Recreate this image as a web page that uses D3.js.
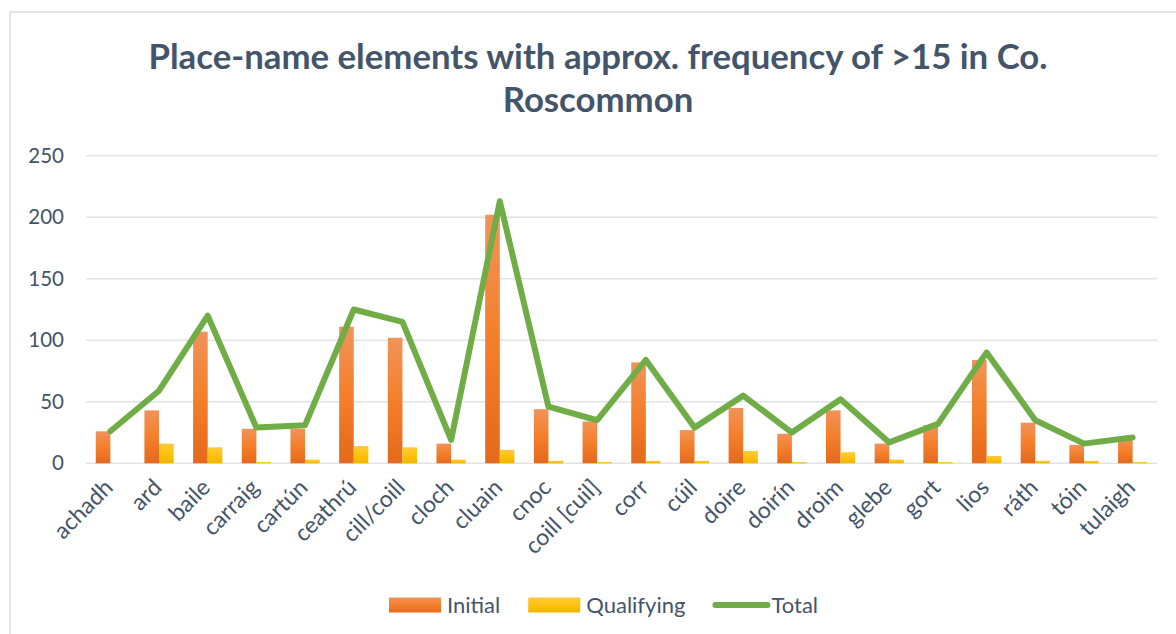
<!DOCTYPE html>
<html>
<head>
<meta charset="utf-8">
<script src="https://cdn.jsdelivr.net/npm/d3@7"></script>
<style>
    body { margin: 0; background: #fff; }
    text { font-family: Lato, "Open Sans", sans-serif; }
</style>
</head>
<body>
<script>
// chart data
var categories = ["achadh", "ard", "baile", "carraig", "cartún", "ceathrú", "cill/coill", "cloch",
    "cluain", "cnoc", "coill [cuil]", "corr", "cúil", "doire", "doirín", "droim", "glebe",
    "gort", "lios", "ráth", "tóin", "tulaigh"];
var initialValues = [26, 43, 107, 28, 28, 111, 102, 16, 202, 44, 34, 82, 27, 45, 24, 43, 16, 31, 84, 33, 15, 20];
var qualifyingValues = [0, 16, 13, 1, 3, 14, 13, 3, 11, 2, 1, 2, 2, 10, 1, 9, 3, 1, 6, 2, 2, 1];
var totalValues = [26, 59, 120, 29, 31, 125, 115, 19, 213, 46, 35, 84, 29, 55, 25, 52, 17, 32, 90, 35, 16, 21];
var yTicks = [0, 50, 100, 150, 200, 250];
var seriesNames = ["Initial", "Qualifying", "Total"];
var titleLines = ["Place-name elements with approx. frequency of >15 in Co.", "Roscommon"];

var W = 1176, H = 634;
var plot = { left: 86, right: 1157, top: 155.7, bottom: 463.3 };
var textColor = "#44546a";

var svg = d3.select("body").append("svg")
    .attr("width", W)
    .attr("height", H);

// gradients for the bars
var defs = svg.append("defs");
function addGradient(id, stops) {
    var g = defs.append("linearGradient")
        .attr("id", id)
        .attr("x1", 0).attr("y1", 0)
        .attr("x2", 0).attr("y2", 1);
    stops.forEach(function (s) {
        g.append("stop").attr("offset", s[0]).attr("stop-color", s[1]);
    });
}
addGradient("gradInitial", [[0, "#f1935a"], [0.5, "#f47f2a"], [1, "#e4691c"]]);
addGradient("gradQualifying", [[0, "#ffca3c"], [0.5, "#ffc20e"], [1, "#f0b400"]]);

// chart frame
svg.append("rect")
    .attr("x", 10)
    .attr("y", 12)
    .attr("width", W + 20)
    .attr("height", H + 20)
    .attr("fill", "#fff")
    .attr("stroke", "#d9dee6")
    .attr("stroke-width", 1.5);

// title
var title = svg.append("text")
    .attr("text-anchor", "middle")
    .attr("fill", textColor)
    .style("font-weight", "bold");
title.selectAll("tspan")
    .data(titleLines)
    .enter()
    .append("tspan")
    .attr("x", 598)
    .attr("y", function (d, i) { return 69 + i * 43; })
    .text(function (d) { return d; });
// fit the first line to the width it has in the picture
title.style("font-size", "32px");
var firstLen = title.select("tspan").node().getComputedTextLength();
title.style("font-size", (32 * 899 / firstLen) + "px");

// scales
var x = d3.scaleBand()
    .domain(categories)
    .range([plot.left, plot.right])
    .paddingInner(0.4)
    .paddingOuter(0.2);

var x1 = d3.scaleBand()
    .domain([0, 1])
    .range([0, x.bandwidth()]);

var y = d3.scaleLinear()
    .domain([0, 250])
    .range([plot.bottom, plot.top]);

// gridlines
svg.append("g")
    .selectAll("line")
    .data(yTicks)
    .enter()
    .append("line")
    .attr("x1", plot.left)
    .attr("x2", plot.right)
    .attr("y1", function (d) { return y(d); })
    .attr("y2", function (d) { return y(d); })
    .attr("stroke", "#dfe3e9")
    .attr("stroke-width", 1.5);

// y axis labels
var yAxis = d3.axisLeft(y)
    .tickValues(yTicks)
    .tickSize(0)
    .tickPadding(0);
var yG = svg.append("g")
    .attr("transform", "translate(64,0)")
    .call(yAxis);
yG.select(".domain").remove();
yG.selectAll("text")
    .attr("fill", textColor)
    .style("font-size", "20.5px")
    .style("font-family", "Lato, sans-serif");

// bars
var rows = categories.map(function (c, i) {
    return { cat: c, initial: initialValues[i], qualifying: qualifyingValues[i], total: totalValues[i] };
});

var barGroup = svg.append("g").attr("class", "bar");
barGroup.selectAll("rect.initial")
    .data(rows)
    .enter()
    .append("rect")
    .attr("class", "initial")
    .attr("x", function (d) { return x(d.cat) + x1(0); })
    .attr("width", x1.bandwidth())
    .attr("y", function (d) { return y(d.initial); })
    .attr("height", function (d) { return y(0) - y(d.initial); })
    .attr("fill", "url(#gradInitial)");

barGroup.selectAll("rect.qualifying")
    .data(rows)
    .enter()
    .append("rect")
    .attr("class", "qualifying")
    .attr("x", function (d) { return x(d.cat) + x1(1); })
    .attr("width", x1.bandwidth())
    .attr("y", function (d) { return y(d.qualifying); })
    .attr("height", function (d) { return y(0) - y(d.qualifying); })
    .attr("fill", "url(#gradQualifying)");

// total line
var line = d3.line()
    .x(function (d) { return x(d.cat) + x.bandwidth() / 2; })
    .y(function (d) { return y(d.total); });

svg.append("path")
    .datum(rows)
    .attr("d", line)
    .attr("fill", "none")
    .attr("stroke", "#70ad47")
    .attr("stroke-width", 6)
    .attr("stroke-linejoin", "round")
    .attr("stroke-linecap", "round");

// x axis labels, rotated
svg.append("g")
    .selectAll("text")
    .data(categories)
    .enter()
    .append("text")
    .attr("transform", function (d) {
        return "translate(" + (x(d) + x.bandwidth() / 2 + 4) + ",489) rotate(-45)";
    })
    .attr("text-anchor", "end")
    .attr("fill", textColor)
    .style("font-size", "23px")
    .text(function (d) { return d; });

// legend
var legend = svg.append("g");
var lx = 389, ly = 605;
seriesNames.forEach(function (name, i) {
    if (i < 2) {
        legend.append("rect")
            .attr("x", lx)
            .attr("y", ly - 7.5)
            .attr("width", 52)
            .attr("height", 15)
            .attr("fill", i == 0 ? "url(#gradInitial)" : "url(#gradQualifying)");
    } else {
        legend.append("line")
            .attr("x1", lx + 2)
            .attr("x2", lx + 54)
            .attr("y1", ly)
            .attr("y2", ly)
            .attr("stroke", "#70ad47")
            .attr("stroke-width", 6)
            .attr("stroke-linecap", "round");
    }
    var t = legend.append("text")
        .attr("x", lx + 58)
        .attr("y", ly + 8)
        .attr("fill", textColor)
        .style("font-size", "22px")
        .text(name);
    lx += 58 + t.node().getComputedTextLength() + 28;
});
</script>
</body>
</html>
